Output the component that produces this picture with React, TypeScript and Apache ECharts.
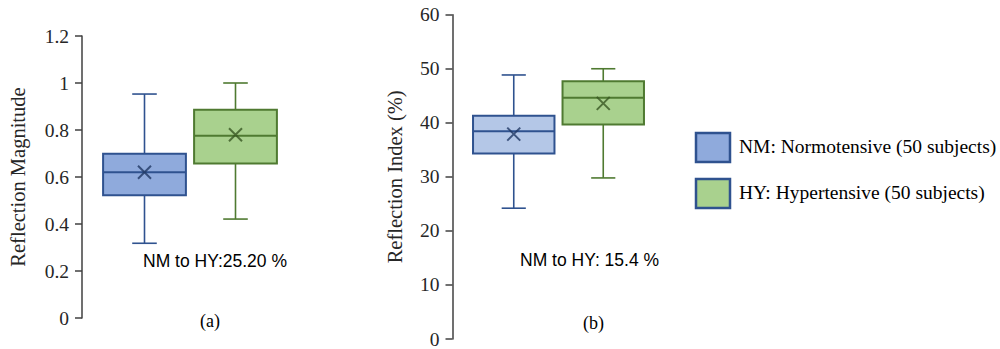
import React, { useEffect, useRef } from "react";
import * as echarts from "echarts";

const categories = ["NM", "HY"];
// [min, Q1, median, Q3, max]
const magnitudeBoxes = [
  [0.318, 0.522, 0.62, 0.699, 0.953],
  [0.421, 0.657, 0.776, 0.886, 1.0],
];
const magnitudeMeans = [0.62, 0.78];
const indexBoxes = [
  [24.2, 34.3, 38.45, 41.3, 48.85],
  [29.8, 39.7, 44.65, 47.7, 50.0],
];
const indexMeans = [37.9, 43.6];
const magnitudeTicks = { min: 0, max: 1.2, interval: 0.2 };
const indexTicks = { min: 0, max: 60, interval: 10 };
const legendLabels = ["NM: Normotensive (50 subjects)", "HY: Hypertensive (50 subjects)"];
const changeTexts = ["NM to HY:25.20 %", "NM to HY: 15.4 %"];

const BLUE_EDGE = "#2f528f";
const GREEN_EDGE = "#4f7a31";
const leftStyles = [
  { fill: "#8faadc", stroke: BLUE_EDGE, mean: "#203864" },
  { fill: "#a9d18e", stroke: GREEN_EDGE, mean: "#385723" },
];
const rightStyles = [
  { fill: "#b4c7e7", stroke: BLUE_EDGE, mean: "#203864" },
  { fill: "#a9d18e", stroke: GREEN_EDGE, mean: "#385723" },
];

const SERIF = "'Liberation Serif', 'Times New Roman', serif";
const SANS = "'Liberation Sans', Arial, sans-serif";

function boxRender(styles: any[]) {
  return (params: any, api: any) => {
    const i = params.dataIndex;
    const xi = api.value(0);
    const y = (k: number) => api.coord([xi, api.value(k)])[1];
    const cx = api.coord([xi, api.value(1)])[0];
    const yMin = y(1), yQ1 = y(2), yMed = y(3), yQ3 = y(4), yMax = y(5);
    const band = api.size([1, 0])[0];
    const bw = band * 0.91;
    const cw = band * 0.27;
    const st = styles[i];
    const ls = { stroke: st.stroke, lineWidth: 1.6 };
    return {
      type: "group",
      children: [
        { type: "line", shape: { x1: cx, y1: yMax, x2: cx, y2: yQ3 }, style: ls },
        { type: "line", shape: { x1: cx, y1: yQ1, x2: cx, y2: yMin }, style: ls },
        { type: "line", shape: { x1: cx - cw / 2, y1: yMax, x2: cx + cw / 2, y2: yMax }, style: ls },
        { type: "line", shape: { x1: cx - cw / 2, y1: yMin, x2: cx + cw / 2, y2: yMin }, style: ls },
        {
          type: "rect",
          shape: { x: cx - bw / 2, y: yQ3, width: bw, height: yQ1 - yQ3 },
          style: { fill: st.fill, stroke: st.stroke, lineWidth: 2 },
        },
        { type: "line", shape: { x1: cx - bw / 2, y1: yMed, x2: cx + bw / 2, y2: yMed }, style: { stroke: st.stroke, lineWidth: 2 } },
      ],
    };
  };
}

export default function App() {
  const ref = useRef<HTMLDivElement>(null);
  useEffect(() => {
    document.body.style.margin = "0";
    const chart = echarts.init(ref.current!, null, { renderer: "svg" });
    const yAxisCommon = {
      type: "value",
      splitLine: { show: false },
      axisLine: { show: true, lineStyle: { color: "#404040", width: 1.5 } },
      axisTick: { show: true, length: 7, lineStyle: { color: "#404040", width: 1.5 } },
      axisLabel: { color: "#262626", fontFamily: SERIF, fontSize: 19.5, margin: 13 },
      nameLocation: "middle",
      nameTextStyle: { color: "#262626", fontFamily: SERIF, fontSize: 20.5 },
    };
    const xAxisCommon = {
      type: "category",
      data: categories,
      show: false,
      boundaryGap: true,
    };
    chart.setOption({
      animation: false,
      grid: [
        { left: 99, top: 36, width: 182, height: 282 },
        { left: 469, top: 14.7, width: 179, height: 324.6 },
      ],
      xAxis: [
        { ...xAxisCommon, gridIndex: 0 },
        { ...xAxisCommon, gridIndex: 1 },
      ],
      yAxis: [
        {
          ...yAxisCommon,
          gridIndex: 0,
          offset: 17,
          ...magnitudeTicks,
          name: "Reflection Magnitude",
          nameGap: 54,
        },
        {
          ...yAxisCommon,
          gridIndex: 1,
          offset: 16.5,
          ...indexTicks,
          name: "Reflection Index (%)",
          nameGap: 47,
        },
      ],
      series: [
        {
          type: "custom",
          xAxisIndex: 0,
          yAxisIndex: 0,
          renderItem: boxRender(leftStyles),
          encode: { x: 0, y: [1, 2, 3, 4, 5] },
          data: magnitudeBoxes.map((b, i) => [i, ...b]),
        },
        {
          type: "custom",
          xAxisIndex: 1,
          yAxisIndex: 1,
          renderItem: boxRender(rightStyles),
          encode: { x: 0, y: [1, 2, 3, 4, 5] },
          data: indexBoxes.map((b, i) => [i, ...b]),
        },
        {
          type: "scatter",
          xAxisIndex: 0,
          yAxisIndex: 0,
          symbol: "path://M0,0L10,10M10,0L0,10",
          symbolSize: 13,
          data: magnitudeMeans.map((v, i) => ({
            value: [i, v],
            itemStyle: { color: "none", borderColor: leftStyles[i].mean, borderWidth: 2 },
          })),
        },
        {
          type: "scatter",
          xAxisIndex: 1,
          yAxisIndex: 1,
          symbol: "path://M0,0L10,10M10,0L0,10",
          symbolSize: 13,
          data: indexMeans.map((v, i) => ({
            value: [i, v],
            itemStyle: { color: "none", borderColor: rightStyles[i].mean, borderWidth: 2 },
          })),
        },
      ],
      graphic: [
        { type: "text", x: 143, y: 261, style: { text: changeTexts[0], font: `17.5px ${SANS}`, fill: "#000", verticalAlign: "middle" } },
        { type: "text", x: 520, y: 260, style: { text: changeTexts[1], font: `17.5px ${SANS}`, fill: "#000", verticalAlign: "middle" } },
        { type: "text", x: 200, y: 321, style: { text: "(a)", font: `18px ${SERIF}`, fill: "#000", verticalAlign: "middle" } },
        { type: "text", x: 583, y: 323, style: { text: "(b)", font: `18px ${SERIF}`, fill: "#000", verticalAlign: "middle" } },
        { type: "rect", shape: { x: 696, y: 133, width: 34, height: 29 }, style: { fill: "#8faadc", stroke: BLUE_EDGE, lineWidth: 2.5 } },
        { type: "rect", shape: { x: 696, y: 179, width: 34, height: 29 }, style: { fill: "#a9d18e", stroke: BLUE_EDGE, lineWidth: 2.5 } },
        { type: "text", x: 739, y: 146, style: { text: legendLabels[0], font: `19.5px ${SERIF}`, fill: "#000", verticalAlign: "middle" } },
        { type: "text", x: 739, y: 192, style: { text: legendLabels[1], font: `19.5px ${SERIF}`, fill: "#000", verticalAlign: "middle" } },
      ],
    });
    return () => chart.dispose();
  }, []);
  return <div ref={ref} style={{ width: 1000, height: 349 }} />;
}
